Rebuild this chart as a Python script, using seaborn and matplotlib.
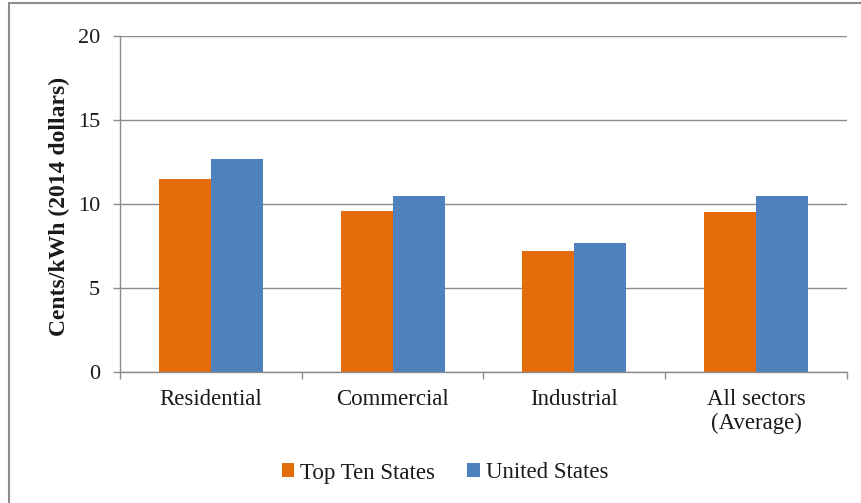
import matplotlib
matplotlib.use("Agg")
import matplotlib.pyplot as plt
import seaborn as sns
import pandas as pd
from matplotlib.patches import Rectangle, Patch

sectors = ["Residential", "Commercial", "Industrial", "All sectors\n(Average)"]
top_ten = [11.5, 9.6, 7.2, 9.5]
united_states = [12.65, 10.5, 7.65, 10.5]
series_names = ["Top Ten States", "United States"]
colors = ["#E46C0A", "#4F81BD"]
yticks = [0, 5, 10, 15, 20]

df = pd.DataFrame({
    "sector": sectors * 2,
    "value": top_ten + united_states,
    "series": [series_names[0]] * 4 + [series_names[1]] * 4,
})

sns.set_theme(style="white")
plt.rcParams["font.family"] = ["Liberation Serif", "DejaVu Serif"]

fig = plt.figure(figsize=(8.62, 5.03), dpi=100)
ax = fig.add_axes([120/862, 1-372/503, 727/862, 336/503])

sns.barplot(data=df, x="sector", y="value", hue="series", palette=colors,
            saturation=1, width=0.572, gap=0, ax=ax, legend=False,
            linewidth=0, order=sectors, hue_order=series_names)

grid_c = "#8C8C8C"
ax.set_ylim(0, 20)
ax.set_xlim(-0.5, 3.5)
ax.set_yticks(yticks)
ax.yaxis.grid(True, color=grid_c, linewidth=1)
ax.set_axisbelow(True)
for s in ["top", "right"]:
    ax.spines[s].set_visible(False)
for s in ["left", "bottom"]:
    ax.spines[s].set_color(grid_c)
    ax.spines[s].set_linewidth(1)

ax.tick_params(axis="y", which="major", length=5, width=1, color=grid_c,
               pad=9.5, labelsize=16, labelcolor="#1a1a1a", left=True)
ax.tick_params(axis="x", which="major", length=0, pad=12, labelsize=16.5,
               labelcolor="#1a1a1a")
ax.set_xticks([-0.5, 0.5, 1.5, 2.5, 3.5], minor=True)
ax.tick_params(axis="x", which="minor", length=5, width=1, color=grid_c, bottom=True)
ax.set_xlabel("")
ax.set_ylabel("Cents/kWh (2014 dollars)", fontsize=17, fontweight="bold", color="#1a1a1a")
ax.yaxis.set_label_coords(-0.069, 0.494)

handles = [Patch(facecolor=c, edgecolor="none") for c in colors]
fig.legend(handles, series_names, loc="center", bbox_to_anchor=(445/862, 1-473/503),
           ncol=2, frameon=False, fontsize=16.5, handlelength=0.55, handleheight=0.55,
           handletextpad=0.25, columnspacing=1.4, labelcolor="#1a1a1a")

fig.patches.append(Rectangle((9/862, -0.05), 1.2, 1.05 - 3/503, transform=fig.transFigure,
                             fill=False, edgecolor="#8C8C8C", linewidth=1.5, figure=fig))

fig.savefig("out.png", dpi=100)
